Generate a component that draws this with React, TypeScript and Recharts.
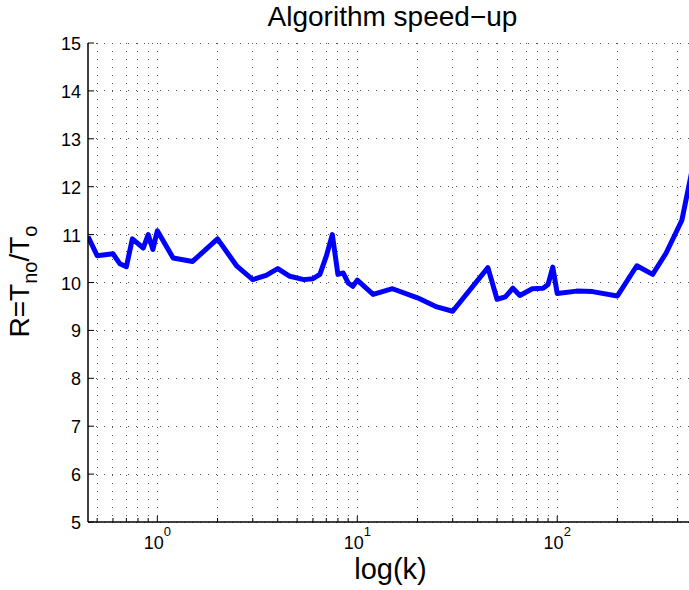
import React from 'react';
import { LineChart, Line, XAxis, YAxis, CartesianGrid } from 'recharts';

const kValues = [0.45, 0.5, 0.6, 0.65, 0.7, 0.75, 0.85, 0.9, 0.95, 1.0, 1.2, 1.5, 2, 2.5, 3, 3.5, 4, 4.6, 5.4, 6, 6.5, 7, 7.5, 8, 8.5, 9, 9.5, 10, 12, 15, 20, 25, 30, 45, 50, 55, 60, 65, 75, 85, 90, 95, 100, 125, 150, 200, 250, 300, 350, 420, 500];
const ratioValues = [10.96, 10.56, 10.6, 10.39, 10.33, 10.91, 10.72, 11.0, 10.69, 11.08, 10.51, 10.44, 10.91, 10.34, 10.06, 10.15, 10.29, 10.13, 10.06, 10.08, 10.17, 10.55, 11.0, 10.17, 10.2, 9.99, 9.92, 10.05, 9.75, 9.87, 9.68, 9.49, 9.4, 10.31, 9.65, 9.7, 9.88, 9.73, 9.87, 9.88, 9.96, 10.32, 9.77, 9.82, 9.81, 9.72, 10.35, 10.17, 10.61, 11.3, 12.85];

const xTicks = [0.5, 0.6, 0.7, 0.8, 0.9, 1, 2, 3, 4, 5, 6, 7, 8, 9, 10, 20, 30, 40, 50, 60, 70, 80, 90, 100, 200, 300, 400];
const majorTicks = [1, 10, 100];
const majorExponents = ['0', '1', '2'];
const yTicks = [5, 6, 7, 8, 9, 10, 11, 12, 13, 14, 15];
const xDomain = [0.45, 500];
const yDomain = [5, 15];

const titleText = 'Algorithm speed\u2212up';
const xLabelText = 'log(k)';

const data = kValues.map((k, i) => ({ k, r: ratioValues[i] }));

const FONT = '"Liberation Sans", Arial, Helvetica, sans-serif';

const majorIndex = (v: number) => majorTicks.findIndex((m) => Math.abs(m - v) < 1e-9 * m);

const BottomTick = (props: any) => {
  const { x, y, payload } = props;
  const idx = majorIndex(payload.value);
  const major = idx >= 0;
  return (
    <g>
      <line x1={x} x2={x} y1={y} y2={y - (major ? 6 : 4)} stroke="#000" strokeWidth={1} />
      {major && (
        <text x={x} y={y + 27} textAnchor="middle" fontSize={18} fontFamily={FONT} fill="#000">
          <tspan>10</tspan>
          <tspan dy={-13} fontSize={13}>{majorExponents[idx]}</tspan>
        </text>
      )}
    </g>
  );
};

const TopTick = (props: any) => {
  const { x, y, payload } = props;
  const major = majorIndex(payload.value) >= 0;
  return <line x1={x} x2={x} y1={y} y2={y + (major ? 6 : 4)} stroke="#000" strokeWidth={1} />;
};

const LeftTick = (props: any) => {
  const { x, y, payload } = props;
  return (
    <g>
      <line x1={x} x2={x + 6} y1={y} y2={y} stroke="#000" strokeWidth={1} />
      <text x={x - 7} y={y + 7} textAnchor="end" fontSize={18} fontFamily={FONT} fill="#000">
        {payload.value}
      </text>
    </g>
  );
};

const XLabel = (props: any) => {
  const vb = props.viewBox || { x: 88, y: 522, width: 609, height: 68 };
  return (
    <text x={vb.x + vb.width / 2 - 2} y={vb.y + 57} textAnchor="middle" fontSize={29} fontFamily={FONT} fill="#000">
      {xLabelText}
    </text>
  );
};

const YLabel = (props: any) => {
  const vb = props.viewBox || { x: 0, y: 43, width: 88, height: 479 };
  const cx = 29;
  const cy = vb.y + vb.height / 2 - 1;
  return (
    <text
      x={cx}
      y={cy}
      transform={`rotate(-90, ${cx}, ${cy})`}
      textAnchor="middle"
      fontSize={28}
      fontFamily={FONT}
      fill="#000"
    >
      <tspan>R=T</tspan>
      <tspan dy={8} fontSize={20}>no</tspan>
      <tspan dy={-8}>/T</tspan>
      <tspan dy={8} fontSize={20}>o</tspan>
    </text>
  );
};

export default function App() {
  return (
    <div style={{ position: 'absolute', left: 0, top: 0, width: 689, height: 590, overflow: 'hidden', background: '#fff' }}>
      <svg width={689} height={43} style={{ position: 'absolute', left: 0, top: 0 }}>
        <text x={392.5} y={26} textAnchor="middle" fontSize={28} fontFamily={FONT} fill="#000">
          {titleText}
        </text>
      </svg>
      <div style={{ position: 'absolute', left: 0, top: 0 }}>
        <LineChart width={697} height={590} data={data} margin={{ top: 43, right: 0, bottom: 0, left: 0 }}>
          <CartesianGrid
            stroke="#555"
            strokeDasharray="1 7"
            shapeRendering="crispEdges"
            horizontalValues={yTicks}
            verticalValues={xTicks}
          />
          <XAxis
            dataKey="k"
            type="number"
            scale="log"
            domain={xDomain}
            allowDataOverflow
            ticks={xTicks}
            interval={0}
            height={68}
            tickSize={0}
            tickMargin={0}
            tickLine={false}
            tick={<BottomTick />}
            axisLine={{ stroke: '#000', strokeWidth: 1.5 }}
            label={<XLabel />}
          />
          <XAxis
            xAxisId="top"
            orientation="top"
            dataKey="k"
            type="number"
            scale="log"
            domain={xDomain}
            allowDataOverflow
            ticks={xTicks}
            interval={0}
            height={0}
            tickSize={0}
            tickMargin={0}
            tickLine={false}
            tick={<TopTick />}
            axisLine={{ stroke: '#000', strokeWidth: 1.5 }}
          />
          <YAxis
            type="number"
            domain={yDomain}
            ticks={yTicks}
            interval={0}
            width={88}
            tickSize={0}
            tickMargin={0}
            tickLine={false}
            tick={<LeftTick />}
            axisLine={{ stroke: '#000', strokeWidth: 1.5 }}
            allowDataOverflow
            label={<YLabel />}
          />
          <Line
            type="linear"
            dataKey="r"
            stroke="#0000ff"
            strokeWidth={5}
            strokeLinejoin="round"
            dot={false}
            activeDot={false}
            isAnimationActive={false}
          />
        </LineChart>
      </div>
    </div>
  );
}
